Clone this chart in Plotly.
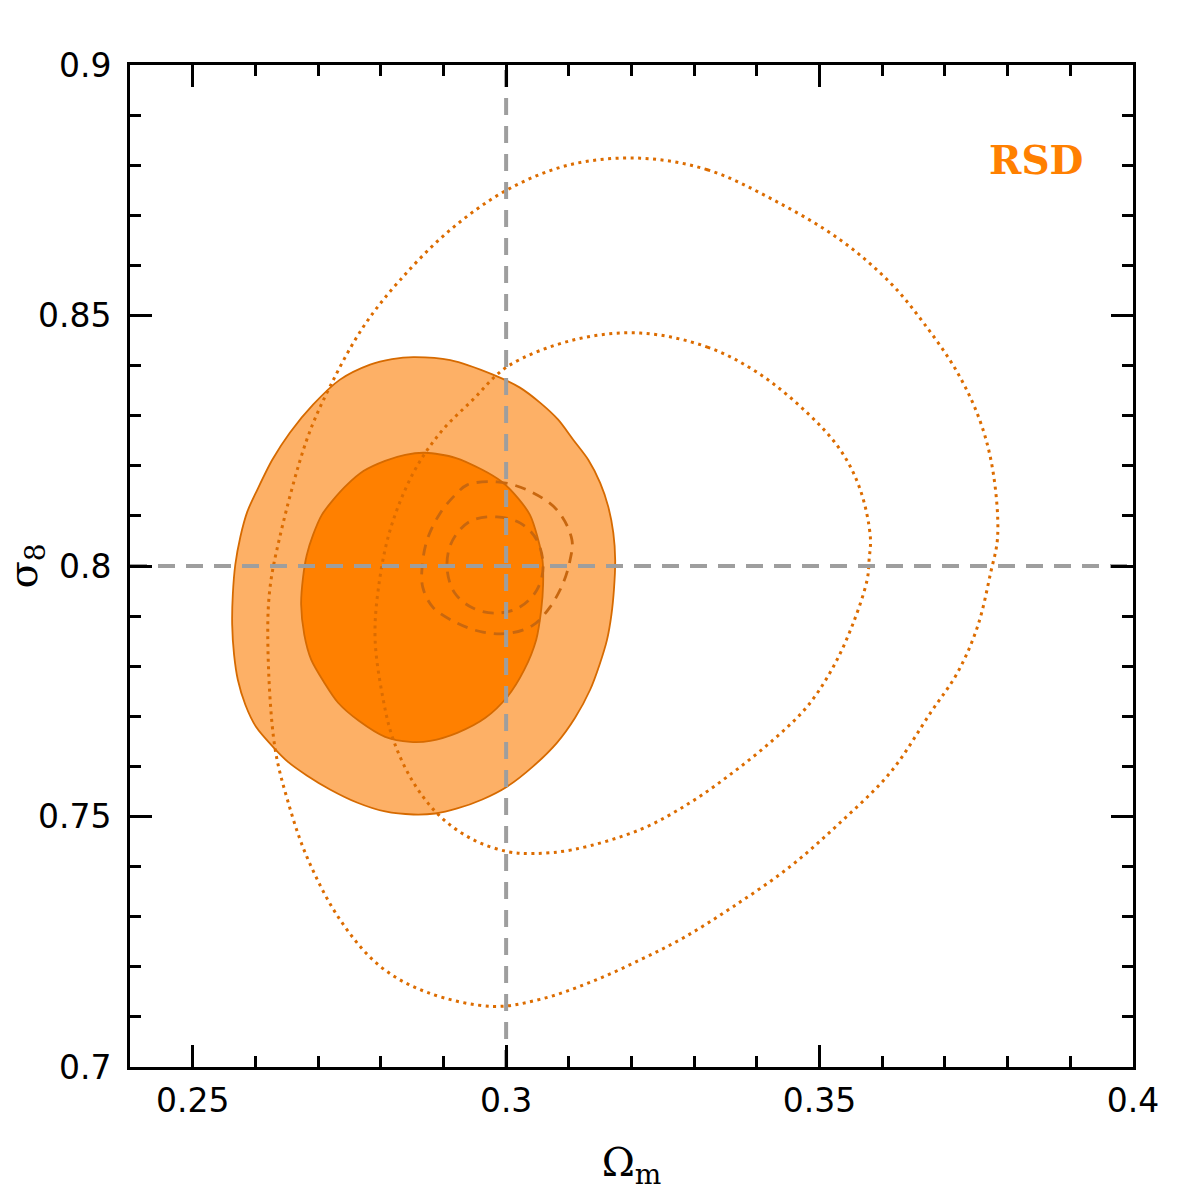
import plotly.graph_objects as go

# ---- data: contour boundaries (Omega_m, sigma_8) ----
# filled 95% region
fill95_om = [0.2852, 0.2911, 0.2979, 0.3022, 0.3054, 0.3083, 0.3107, 0.3131, 0.3150, 0.3163, 0.3171,
             0.3174, 0.3172, 0.3168, 0.3161, 0.3149, 0.3134, 0.3110, 0.3081, 0.3043, 0.3002, 0.2962,
             0.2922, 0.2887, 0.2852, 0.2807, 0.2762, 0.2719, 0.2682, 0.2652, 0.2628, 0.2601, 0.2584,
             0.2572, 0.2566, 0.2563, 0.2564, 0.2568, 0.2576, 0.2587, 0.2603, 0.2627, 0.2655, 0.2692,
             0.2735, 0.2783, 0.2818]
fill95_s8 = [0.8417, 0.8411, 0.8382, 0.8356, 0.8326, 0.8292, 0.8252, 0.8212, 0.8166, 0.8118, 0.8066,
             0.8012, 0.7953, 0.7903, 0.7853, 0.7803, 0.7753, 0.7697, 0.7647, 0.7600, 0.7560, 0.7534,
             0.7516, 0.7506, 0.7504, 0.7510, 0.7528, 0.7554, 0.7582, 0.7609, 0.7639, 0.7679, 0.7723,
             0.7773, 0.7823, 0.7883, 0.7943, 0.8003, 0.8058, 0.8108, 0.8152, 0.8212, 0.8266, 0.8322,
             0.8372, 0.8402, 0.8413]
# filled 68% region
fill68_om = [0.2871, 0.2919, 0.2962, 0.2991, 0.3013, 0.3038, 0.3050, 0.3058, 0.3059, 0.3056, 0.3048,
             0.3029, 0.3002, 0.2967, 0.2922, 0.2879, 0.2847, 0.2807, 0.2765, 0.2732, 0.2710, 0.2689,
             0.2678, 0.2673, 0.2676, 0.2682, 0.2692, 0.2706, 0.2724, 0.2746, 0.2773, 0.2807, 0.2839]
fill68_s8 = [0.8226, 0.8216, 0.8192, 0.8170, 0.8144, 0.8102, 0.8058, 0.8012, 0.7963, 0.7913, 0.7853,
             0.7793, 0.7739, 0.7697, 0.7667, 0.7651, 0.7649, 0.7659, 0.7691, 0.7727, 0.7767, 0.7813,
             0.7863, 0.7923, 0.7977, 0.8022, 0.8062, 0.8102, 0.8132, 0.8162, 0.8190, 0.8210, 0.8222]
# dotted contours
dot95_om = [0.3214, 0.3321, 0.3426, 0.3533, 0.3613, 0.3666, 0.3720, 0.3757, 0.3777, 0.3784, 0.3773,
            0.3752, 0.3720, 0.3677, 0.3613, 0.3533, 0.3453, 0.3362, 0.3283, 0.3214, 0.3134, 0.3054,
            0.2979, 0.2874, 0.2799, 0.2735, 0.2682, 0.2651, 0.2631, 0.2620, 0.2623, 0.2639, 0.2682,
            0.2719, 0.2772, 0.2831, 0.2911, 0.3002, 0.3102]
dot95_s8 = [0.8814, 0.8791, 0.8731, 0.8651, 0.8565, 0.8485, 0.8386, 0.8286, 0.8186, 0.8058, 0.7987,
            0.7879, 0.7787, 0.7707, 0.7588, 0.7488, 0.7400, 0.7320, 0.7258, 0.7214, 0.7169, 0.7135,
            0.7121, 0.7149, 0.7201, 0.7294, 0.7420, 0.7534, 0.7639, 0.7839, 0.7953, 0.8058, 0.8252,
            0.8358, 0.8477, 0.8571, 0.8671, 0.8751, 0.8801]
dot68_om = [0.3214, 0.3321, 0.3401, 0.3480, 0.3533, 0.3565, 0.3581, 0.3579, 0.3576, 0.3554, 0.3522,
            0.3480, 0.3426, 0.3362, 0.3294, 0.3214, 0.3107, 0.3043, 0.3002, 0.2947, 0.2895, 0.2852,
            0.2820, 0.2804, 0.2791, 0.2796, 0.2815, 0.2852, 0.2895, 0.2947, 0.3002, 0.3107]
dot68_s8 = [0.8465, 0.8437, 0.8386, 0.8306, 0.8232, 0.8152, 0.8058, 0.8012, 0.7973, 0.7887, 0.7799,
            0.7719, 0.7653, 0.7588, 0.7528, 0.7474, 0.7434, 0.7426, 0.7430, 0.7454, 0.7500, 0.7568,
            0.7653, 0.7733, 0.7853, 0.7953, 0.8072, 0.8186, 0.8266, 0.8332, 0.8398, 0.8451]
# dashed contours
dash95_om = [0.2938, 0.2985, 0.3033, 0.3081, 0.3105, 0.3102, 0.3091, 0.3070, 0.3043, 0.3006, 0.2963,
             0.2922, 0.2883, 0.2867, 0.2866, 0.2874, 0.2895, 0.2922]
dash95_s8 = [0.8162, 0.8168, 0.8152, 0.8112, 0.8052, 0.8012, 0.7966, 0.7918, 0.7882, 0.7866, 0.7868,
             0.7886, 0.7918, 0.7958, 0.7998, 0.8052, 0.8106, 0.8146]
dash68_om = [0.2947, 0.2985, 0.3022, 0.3049, 0.3059, 0.3049, 0.3022, 0.2985, 0.2947, 0.2918, 0.2906,
             0.2910, 0.2926]
dash68_s8 = [0.8092, 0.8098, 0.8086, 0.8052, 0.7998, 0.7952, 0.7918, 0.7906, 0.7916, 0.7946, 0.7992,
             0.8038, 0.8072]
# fiducial values
fid_om = 0.3
fid_s8 = 0.8
x_range = [0.24, 0.4]
y_range = [0.7, 0.9]
x_ticks = [0.25, 0.3, 0.35, 0.4]
x_ticklabels = ["0.25", "0.3", "0.35", "0.4"]
y_ticks = [0.7, 0.75, 0.8, 0.85, 0.9]
y_ticklabels = ["0.7", "0.75", "0.8", "0.85", "0.9"]


def closed(a):
    return list(a) + [a[0]]


fig = go.Figure()
fig.add_trace(go.Scatter(x=closed(fill95_om), y=closed(fill95_s8), mode="lines", fill="toself",
                         fillcolor="rgb(253,176,102)",
                         line=dict(color="rgb(214,106,0)", width=1.8, shape="spline", smoothing=0.8),
                         hoverinfo="skip", showlegend=False))
fig.add_trace(go.Scatter(x=closed(fill68_om), y=closed(fill68_s8), mode="lines", fill="toself",
                         fillcolor="rgb(255,128,0)",
                         line=dict(color="rgb(214,106,0)", width=1.8, shape="spline", smoothing=0.8),
                         hoverinfo="skip", showlegend=False))
for xs, ys in [(dot95_om, dot95_s8), (dot68_om, dot68_s8)]:
    fig.add_trace(go.Scatter(x=closed(xs), y=closed(ys), mode="lines",
                             line=dict(color="rgb(220,108,0)", width=3, dash="3px,4.5px", shape="spline"),
                             hoverinfo="skip", showlegend=False))
for xs, ys in [(dash95_om, dash95_s8), (dash68_om, dash68_s8)]:
    fig.add_trace(go.Scatter(x=closed(xs), y=closed(ys), mode="lines",
                             line=dict(color="rgb(200,103,15)", width=2.8, dash="11px,8px", shape="spline"),
                             hoverinfo="skip", showlegend=False))
fig.add_trace(go.Scatter(x=[fid_om, fid_om], y=y_range, mode="lines",
                         line=dict(color="rgb(158,158,158)", width=4, dash="17px,11px"),
                         hoverinfo="skip", showlegend=False))
fig.add_trace(go.Scatter(x=x_range, y=[fid_s8, fid_s8], mode="lines",
                         line=dict(color="rgb(158,158,158)", width=4, dash="17px,11px"),
                         hoverinfo="skip", showlegend=False))

axis_common = dict(
    showgrid=False, zeroline=False, showline=True, linecolor="black", linewidth=3,
    ticks="inside", ticklen=22, tickwidth=2.5, tickcolor="black", mirror="ticks",
    tickfont=dict(family="DejaVu Sans", size=33, color="black"), automargin=False,
)
fig.update_xaxes(range=x_range, tickvals=x_ticks, ticktext=x_ticklabels,
                 minor=dict(ticks="inside", ticklen=11, tickwidth=2.5, tickcolor="black", dtick=0.01, tick0=0),
                 title=dict(text="Ω<sub>m</sub>", font=dict(family="DejaVu Serif", size=40, color="black"), standoff=30),
                 ticklabelstandoff=2, **axis_common)
fig.update_yaxes(range=y_range, tickvals=y_ticks, ticktext=y_ticklabels,
                 minor=dict(ticks="inside", ticklen=11, tickwidth=2.5, tickcolor="black", dtick=0.01, tick0=0),
                 title=dict(text="σ<sub>8</sub>", font=dict(family="DejaVu Serif", size=40, color="black"), standoff=18),
                 ticklabelstandoff=9, **axis_common)

fig.add_annotation(text="<b>RSD</b>", xref="paper", yref="paper", x=0.903, y=0.905, showarrow=False,
                   font=dict(family="DejaVu Serif", size=39, color="rgb(255,128,0)"),
                   xanchor="center", yanchor="middle")

fig.update_layout(width=1196, height=1196, margin=dict(l=130, r=63, t=65, b=129),
                  plot_bgcolor="white", paper_bgcolor="white")
fig.write_html("out.html")
